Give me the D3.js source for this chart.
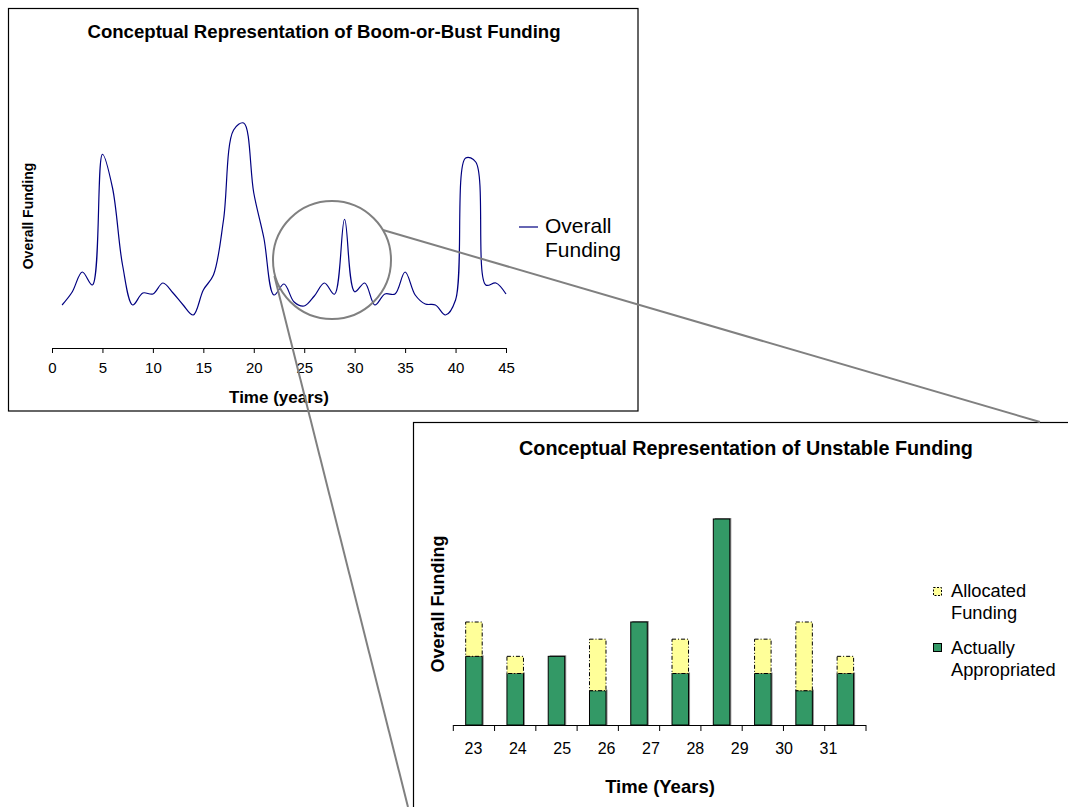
<!DOCTYPE html>
<html><head><meta charset="utf-8">
<script src="https://cdn.jsdelivr.net/npm/d3@7"></script>
<style>
html,body{margin:0;padding:0;background:#fff;}
svg{display:block;font-family:Arial,"Liberation Sans",sans-serif;}
</style></head>
<body>
<svg id="c" width="1068" height="807"></svg>
<script>
// ---------- Data: boom-or-bust line ----------
const lineYears = [1,2,3,4,5,6,7,8,9,10,11,12,13,14,15,16,17,18,19,20,21,22,23,24,25,26,27,28,29,30,31,32,33,34,35,36,37,38,39,40,41,42,43,44,45];
const lineFunding = [17.2,22.4,30.4,25.2,77.5,64,33,17.2,22,21.6,26,22,17.2,13.2,23.2,29.2,51.2,87.2,90,62,44,21.2,25.6,18.4,16.8,20.8,26,21.5,51.5,22.5,26,17.2,21.6,21.6,30.4,21.2,17.6,17.2,13.2,19.2,76,74.4,25.2,26,21.6];
const topTicks = [0,5,10,15,20,25,30,35,40,45];

// ---------- Data: unstable funding bars ----------
const periods = ["p1","p2","p3","p4","p5","p6","p7","p8","p9","p10"];
const appropriated = [4,3,4,2,6,3,12,3,2,3];
const allocatedExtra = [2,1,0,3,0,2,0,2,4,1];
const bottomTickLabels = [23,24,25,26,27,28,29,30,31];

const svg = d3.select("#c");
const FONT = "Arial, 'Liberation Sans', sans-serif";

// ================= TOP CHART =================
svg.append("rect").attr("x",8.5).attr("y",8.5).attr("width",629.5).attr("height",402.5)
  .attr("fill","#fff").attr("stroke","#000").attr("stroke-width",1.2);

svg.append("text").attr("x",324).attr("y",38).attr("text-anchor","middle")
  .attr("font-weight","bold").attr("font-size",18.6)
  .text("Conceptual Representation of Boom-or-Bust Funding");

const xT = d3.scaleLinear().domain([0,45]).range([52,506]);
const yT = d3.scaleLinear().domain([0,100]).range([348,98]);

const axT = svg.append("g").attr("transform","translate(0,348)")
  .call(d3.axisBottom(xT).tickValues(topTicks).tickSize(5).tickSizeOuter(0).tickPadding(9));
axT.select(".domain").attr("stroke","#000").attr("stroke-width",1.2);
axT.selectAll(".tick line").attr("stroke","#000");
axT.selectAll("text").attr("font-size",15).attr("font-family",FONT).attr("fill","#000");

svg.append("text").attr("x",279).attr("y",403).attr("text-anchor","middle")
  .attr("font-weight","bold").attr("font-size",17).text("Time (years)");

svg.append("text").attr("transform","translate(33,216) rotate(-90)").attr("text-anchor","middle")
  .attr("font-weight","bold").attr("font-size",14).text("Overall Funding");

const line = d3.line().x((d,i)=>xT(lineYears[i])).y(d=>yT(d)).curve(d3.curveCatmullRom.alpha(0.5));
svg.append("path").datum(lineFunding).attr("d",line).attr("fill","none")
  .attr("stroke","#000080").attr("stroke-width",1.2);

// legend top
svg.append("line").attr("x1",519).attr("x2",538).attr("y1",227).attr("y2",227)
  .attr("stroke","#000080").attr("stroke-width",1.2);
svg.append("text").attr("x",545).attr("y",233).attr("font-size",21).text("Overall");
svg.append("text").attr("x",545).attr("y",257).attr("font-size",21).text("Funding");

// ================= BOTTOM CHART =================
svg.append("rect").attr("x",413.5).attr("y",422.5).attr("width",700).attr("height",500)
  .attr("fill","#fff").attr("stroke","#000").attr("stroke-width",1.2);

svg.append("text").attr("x",746).attr("y",455).attr("text-anchor","middle")
  .attr("font-weight","bold").attr("font-size",19.8).text("Conceptual Representation of Unstable Funding");

const xB = d3.scaleBand().domain(periods).range([453.3,866]).paddingInner(0.6).paddingOuter(0.3);
const yB = d3.scaleLinear().domain([0,12]).range([725,519]);
const labelX = d3.scaleLinear().domain([23,31]).range([473.5,828.5]);

const barData = periods.map((p,i)=>({p, app: appropriated[i], extra: allocatedExtra[i]}));

const g = svg.append("g");
// shadow
g.selectAll("rect.shadow").data(barData).join("rect").attr("class","shadow")
  .attr("x",d=>xB(d.p)+1.5).attr("y",d=>yB(d.app)-1)
  .attr("width",xB.bandwidth()).attr("height",d=>yB(0)-yB(d.app)+1)
  .attr("fill","#8a8a8a");
// appropriated (green)
g.selectAll("rect.app").data(barData).join("rect").attr("class","app")
  .attr("x",d=>xB(d.p)).attr("y",d=>yB(d.app))
  .attr("width",xB.bandwidth()).attr("height",d=>yB(0)-yB(d.app))
  .attr("fill","#339966").attr("stroke","#000").attr("stroke-width",1);
// allocated extra (yellow, dash-dot)
g.selectAll("rect.alloc").data(barData.filter(d=>d.extra>0)).join("rect").attr("class","alloc")
  .attr("x",d=>xB(d.p)).attr("y",d=>yB(d.app+d.extra))
  .attr("width",xB.bandwidth()).attr("height",d=>yB(d.app)-yB(d.app+d.extra))
  .attr("fill","#FFFF99").attr("stroke","#000").attr("stroke-width",1)
  .attr("stroke-dasharray","4,2,1,2");

// axis
svg.append("line").attr("x1",453.3).attr("x2",866).attr("y1",725.5).attr("y2",725.5)
  .attr("stroke","#000").attr("stroke-width",1.2);
svg.append("g").selectAll("line").data(d3.range(periods.length+1)).join("line")
  .attr("x1",i=>453.3+i*xB.step()).attr("x2",i=>453.3+i*xB.step())
  .attr("y1",725).attr("y2",731).attr("stroke","#000").attr("stroke-width",1);
svg.append("g").selectAll("text").data(bottomTickLabels).join("text")
  .attr("x",d=>labelX(d)).attr("y",754).attr("text-anchor","middle")
  .attr("font-size",16).text(d=>d);

svg.append("text").attr("x",660).attr("y",793).attr("text-anchor","middle")
  .attr("font-weight","bold").attr("font-size",18.5).text("Time (Years)");
svg.append("text").attr("transform","translate(444,604) rotate(-90)").attr("text-anchor","middle")
  .attr("font-weight","bold").attr("font-size",18).text("Overall Funding");

// legend bottom
svg.append("rect").attr("x",933.5).attr("y",587.5).attr("width",8).attr("height",8)
  .attr("fill","#FFFF99").attr("stroke","#000").attr("stroke-width",1).attr("stroke-dasharray","2,1.5");
svg.append("text").attr("x",951).attr("y",597).attr("font-size",18.3).text("Allocated");
svg.append("text").attr("x",951).attr("y",619).attr("font-size",18.3).text("Funding");
svg.append("rect").attr("x",933.5).attr("y",643.5).attr("width",8).attr("height",8)
  .attr("fill","#339966").attr("stroke","#000").attr("stroke-width",1);
svg.append("text").attr("x",951).attr("y",654).attr("font-size",18.3).text("Actually");
svg.append("text").attr("x",951).attr("y",676).attr("font-size",18.3).text("Appropriated");

// ================= CALLOUT =================
svg.append("circle").attr("cx",332).attr("cy",260).attr("r",59)
  .attr("fill","none").attr("stroke","#808080").attr("stroke-width",2);
svg.append("line").attr("x1",383).attr("y1",230).attr("x2",1040).attr("y2",422)
  .attr("stroke","#808080").attr("stroke-width",2);
svg.append("line").attr("x1",274.4).attr("y1",276).attr("x2",408).attr("y2",807)
  .attr("stroke","#808080").attr("stroke-width",2);
</script>
</body></html>
